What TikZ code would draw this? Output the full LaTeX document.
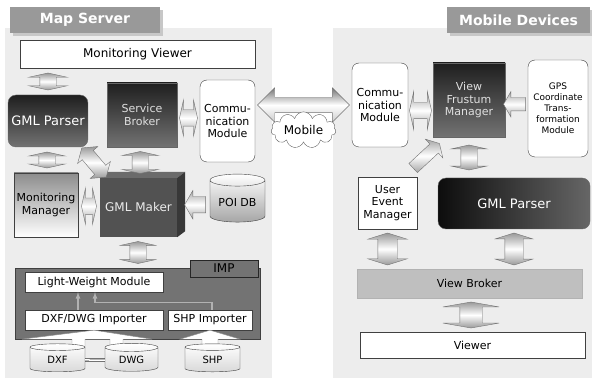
\documentclass[tikz,border=0pt]{standalone}
\usepackage{fontspec}
\setmainfont{DejaVu Sans}
\usetikzlibrary{shapes,arrows,positioning,calc,shadows}

\begin{document}
\begin{tikzpicture}[x=1pt, y=-1pt, align=center, font=\fontsize{11}{12.5}\selectfont]
    \tikzset{
        panel/.style    =   { rectangle
                            , fill=black!7
                            , inner sep=0pt
        }
        , tab/.style    =   { rectangle
                            , fill=black!40
                            , text=white
                            , font=\fontsize{14}{16}\selectfont\bfseries
                            , drop shadow={shadow xshift=3pt, shadow yshift=-3pt, fill=black!22, opacity=1}
        }
        , box/.style    =   { rectangle
                            , draw=black!75
                            , fill=white
                            , inner sep=1pt
        }
        , rbox/.style   =   { box
                            , rounded corners=7pt
        }
        , dark/.style   =   { rectangle
                            , draw=black!60
                            , top color=black!88
                            , bottom color=black!55
                            , text=black!12
                            , inner sep=1pt
        }
        , db/.style     =   { cylinder
                            , shape border rotate=90
                            , aspect=0.3
                            , draw=black!75
                            , top color=white
                            , bottom color=black!15
                            , inner sep=1pt
                            , font=\fontsize{10}{12}\selectfont
        }
        , dbl/.style    =   { double arrow
                            , draw=black!55
                            , top color=black!40
                            , bottom color=black!40
                            , middle color=white
                            , double arrow head extend=10pt
                            , double arrow tip angle=155
                            , inner xsep=0pt
                            , inner ysep=8pt
        }
        , sgl/.style    =   { single arrow
                            , draw=black!55
                            , top color=black!35
                            , bottom color=black!35
                            , middle color=white
                            , single arrow head extend=6pt
                            , single arrow tip angle=120
                            , inner xsep=0pt
                            , inner ysep=7pt
        }
        , link/.style   =   { draw=black!30
                            , line width=1.2pt
                            , -latex
        }
        , wide/.style   =   { draw=black!45
                            , fill=white
        }
    }
    \useasboundingbox (0,0) rectangle (592,382);

    \node(lp)[panel, minimum width=267pt, minimum height=350pt] at (138.5,203) {};
    \node(rp)[panel, minimum width=259pt, minimum height=350pt] at (462.5,203) {};
    \node(ms)[tab, minimum width=150pt, minimum height=26pt] at (85,20) {Map Server};
    \node(md)[tab, minimum width=143pt, minimum height=26pt] at (518.5,20) {Mobile Devices};

    \node(mv)[box, minimum width=235pt, minimum height=28pt, font=\fontsize{12}{14}\selectfont] at (137.5,54) {Monitoring Viewer};
    \node(gp)[dark, rounded corners=8pt, text=white, minimum width=80pt, minimum height=52pt, font=\fontsize{13}{15}\selectfont] at (48,121) {GML Parser};
    \node(sb)[dark, minimum width=70pt, minimum height=64pt] at (142,115) {Service\\Broker};
    \node(cm)[rbox, minimum width=55pt, minimum height=82pt] at (227.5,121) {Commu-\\nication\\Module};
    \node(mm)[box, top color=black!45, bottom color=white, minimum width=64pt, minimum height=64pt] at (46,205) {Monitoring\\Manager};
    \node(gm)[rectangle, fill=black!68, text=black!8, minimum width=77pt, minimum height=59pt, font=\fontsize{12}{14}\selectfont] at (138.5,207.5) {GML Maker};
    \fill[black!58] (gm.north west) -- ++(8,-6) -- ($(gm.north east)+(8,-6)$) -- (gm.north east) -- cycle;
    \fill[black!78] (gm.north east) -- ++(8,-6) -- ($(gm.south east)+(8,-6)$) -- (gm.south east) -- cycle;
    \node(poi)[db, bottom color=black!35, minimum width=55pt, minimum height=48pt, font=\fontsize{11}{13}\selectfont] at (237.5,202) {POI DB};

    \node(imp)[rectangle, draw=black!75, fill=black!55, minimum width=245pt, minimum height=71pt] at (137.5,303.5) {};
    \node(it)[rectangle, draw=black!85, fill=black!55, minimum width=68pt, minimum height=17pt, font=\fontsize{12}{14}\selectfont] at (224,268.5) {IMP};
    \node(lw)[box, minimum width=138pt, minimum height=20pt] at (94,282) {Light-Weight Module};
    \node(dd)[box, minimum width=138pt, minimum height=20pt] at (94,320) {DXF/DWG Importer};
    \node(si)[box, minimum width=84pt, minimum height=20pt] at (210,320) {SHP Importer};
    \draw[link] ([xshift=-16pt]dd.north) -- ([xshift=-16pt]lw.south);
    \draw[link] ([xshift=2pt]si.north) |- ([xshift=1pt, yshift=-10pt]lw.south) -- ([xshift=1pt]lw.south);
    \draw[wide] (dd.south) -- ++(58,9) -- ++(-29,0) -- ++(0,9) -- ++(-13,0) -- ++(0,-9) -- ++(-25,0)
        -- ++(0,9) -- ++(-13,0) -- ++(0,-9) -- ++(-50,0) -- cycle;
    \draw[wide] (si.south) -- ++(30,9) -- ++(-22,0) -- ++(0,9) -- ++(-16,0) -- ++(0,-9) -- ++(-22,0) -- cycle;
    \node(dxf)[db, minimum width=55pt, minimum height=28pt] at (57.5,360) {DXF};
    \node(dwg)[db, minimum width=53pt, minimum height=28pt] at (131.5,360) {DWG};
    \node(shp)[db, minimum width=55pt, minimum height=28pt] at (212.5,360) {SHP};
    \draw[black!80, line width=0.8pt, double=white, double distance=1.5pt] (dxf) -- (dwg);

    \node(rcm)[rbox, minimum width=56pt, minimum height=84pt] at (380,105) {Commu-\\nication\\Module};
    \node(vfm)[dark, minimum width=72pt, minimum height=74pt] at (469,100) {View\\Frustum\\Manager};
    \node(gps)[rbox, minimum width=60pt, minimum height=97pt, font=\fontsize{9}{11}\selectfont] at (558,108.5) {GPS\\Coordinate\\Trans-\\formation\\Module};
    \node(uem)[box, minimum width=59pt, minimum height=52pt] at (387.5,203) {User\\Event\\Manager};
    \node(rgp)[dark, rounded corners=8pt, left color=black!95, right color=black!60, text=white, minimum width=152pt, minimum height=51pt, font=\fontsize{13}{15}\selectfont] at (514,203.5) {GML Parser};
    \node(vb)[rectangle, fill=black!25, draw=black!30, minimum width=225pt, minimum height=29pt] at (469.5,283.5) {View Broker};
    \node(vw)[box, minimum width=225pt, minimum height=26pt] at (472.5,345) {Viewer};

    \node(a1)[dbl, rotate=90, minimum height=17pt, double arrow head extend=11pt] at ($(gp.north)!.5!(gp.north |- mv.south)$) {};
    \node(a2)[dbl, minimum height=18pt] at ($(sb.east)!.5!(cm.west)$) {};
    \node(a3)[dbl, rotate=90, minimum height=16pt] at ($(gp.south)!.5!(mm.north)$) {};
    \node(a4)[dbl, rotate=90, minimum height=22pt] at ($(sb.south)!.5!(gm.north)$) {};
    \node(a5)[dbl, rotate=-50, minimum height=38pt, inner ysep=7pt, double arrow head extend=6pt, double arrow tip angle=110] at ($(gp.south east)!.5!(gm.north west)$) {};
    \node(a6)[dbl, minimum height=15pt] at ($(mm.east)!.5!(gm.west)$) {};
    \node(a7)[sgl, rotate=180, minimum height=21pt, inner ysep=8pt] at ($(poi.west)!.5!(gm.east)+(4,0)$) {};
    \node(a8)[dbl, rotate=90, minimum height=22pt, double arrow head extend=9pt] at ($(gm.south)!.5!(imp.north)$) {};

    \node(mob)[double arrow, draw=black!55, top color=black!55, bottom color=black!20, middle color=white
        , double arrow head extend=9.5pt, double arrow tip angle=90, inner xsep=0pt, inner ysep=7.5pt
        , minimum height=92pt] at ($(cm.east |- rcm.west)!.5!(rcm.west)$) {};
    \node(cl)[cloud, cloud puffs=11, aspect=2.2, draw=black!60, fill=white, inner sep=0pt
        , minimum width=65pt, minimum height=30pt, font=\fontsize{12}{14}\selectfont] at ([yshift=-25pt]mob.center) {Mobile};

    \node(a9)[dbl, minimum height=22pt, double arrow head extend=11pt] at ($(rcm.east)!.5!(vfm.west)+(0,8)$) {};
    \node(a10)[sgl, rotate=180, minimum height=22pt, inner ysep=6.5pt] at ($(gps.west)!.5!(vfm.east)$) {};
    \node(a11)[sgl, rotate=43, minimum height=36pt, inner ysep=6pt, single arrow head extend=6.5pt] at ($(uem.north east)!.5!(vfm.south west)$) {};
    \node(a12)[dbl, rotate=90, minimum height=25pt, double arrow head extend=9.5pt] at ($(vfm.south)!.5!(vfm.south |- rgp.north)$) {};
    \node(a13)[dbl, rotate=90, minimum height=32pt, inner ysep=9.5pt, double arrow head extend=10pt, double arrow tip angle=145] at ($(uem.south)!.5!(uem.south |- vb.north)$) {};
    \node(a14)[dbl, rotate=90, minimum height=32pt, inner ysep=9pt, double arrow head extend=9.5pt, double arrow tip angle=145] at ($(rgp.south)!.5!(rgp.south |- vb.north)$) {};
    \node(a15)[dbl, rotate=90, minimum height=26pt, inner ysep=11pt, double arrow head extend=17pt, double arrow tip angle=160] at ($(vb.south)!.5!(vw.north)$) {};
\end{tikzpicture}
\end{document}
